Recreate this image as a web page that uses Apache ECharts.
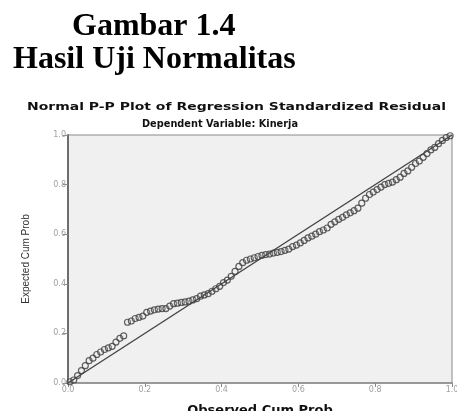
<!DOCTYPE html>
<html>
<head>
<meta charset="utf-8">
<script src="https://cdn.jsdelivr.net/npm/echarts@6/dist/echarts.min.js"></script>
<style>
  html, body { margin: 0; padding: 0; background: #fff; }
  #pp_plot { width: 457px; height: 411px; }
</style>
</head>
<body>
<div id="pp_plot"></div>
<script>
// observed vs expected cumulative probability
var observed = [0.005, 0.015, 0.025, 0.035, 0.045, 0.055, 0.065, 0.075, 0.085, 0.095,
  0.105, 0.115, 0.125, 0.135, 0.145, 0.155, 0.165, 0.175, 0.185, 0.195,
  0.205, 0.215, 0.225, 0.235, 0.245, 0.255, 0.265, 0.275, 0.285, 0.295,
  0.305, 0.315, 0.325, 0.335, 0.345, 0.355, 0.365, 0.375, 0.385, 0.395,
  0.405, 0.415, 0.425, 0.435, 0.445, 0.455, 0.465, 0.475, 0.485, 0.495,
  0.505, 0.515, 0.525, 0.535, 0.545, 0.555, 0.565, 0.575, 0.585, 0.595,
  0.605, 0.615, 0.625, 0.635, 0.645, 0.655, 0.665, 0.675, 0.685, 0.695,
  0.705, 0.715, 0.725, 0.735, 0.745, 0.755, 0.765, 0.775, 0.785, 0.795,
  0.805, 0.815, 0.825, 0.835, 0.845, 0.855, 0.865, 0.875, 0.885, 0.895,
  0.905, 0.915, 0.925, 0.935, 0.945, 0.955, 0.965, 0.975, 0.985, 0.995];
var expected = [0.005, 0.012, 0.03, 0.05, 0.07, 0.09, 0.1, 0.115, 0.125, 0.135,
  0.142, 0.148, 0.165, 0.18, 0.19, 0.245, 0.25, 0.26, 0.265, 0.27,
  0.285, 0.29, 0.295, 0.298, 0.3, 0.3, 0.31, 0.32, 0.322, 0.325,
  0.327, 0.33, 0.335, 0.34, 0.35, 0.355, 0.36, 0.37, 0.38, 0.39,
  0.405, 0.415, 0.43, 0.45, 0.47, 0.485, 0.495, 0.5, 0.505, 0.51,
  0.515, 0.518, 0.52, 0.524, 0.527, 0.53, 0.535, 0.54, 0.55, 0.556,
  0.565, 0.575, 0.585, 0.592, 0.6, 0.61, 0.617, 0.625, 0.64, 0.65,
  0.66, 0.668, 0.678, 0.686, 0.695, 0.705, 0.725, 0.745, 0.76, 0.77,
  0.78, 0.79, 0.8, 0.805, 0.81, 0.82, 0.83, 0.845, 0.855, 0.87,
  0.885, 0.895, 0.91, 0.925, 0.94, 0.95, 0.965, 0.978, 0.99, 0.997];
var refLine = [[0, 0], [1, 1]];

var titleLines = ['Gambar 1.4', 'Hasil Uji Normalitas'];
var plotTitle = 'Normal P-P Plot of Regression Standardized Residual';
var plotSubtitle = 'Dependent Variable: Kinerja';

// stretch a text horizontally so it spans the given width
var measureCtx = document.createElement('canvas').getContext('2d');
function stretch(text, font, width) {
  measureCtx.font = font;
  return width / measureCtx.measureText(text).width;
}

var serifFont = 'bold 32px "Liberation Serif", "Times New Roman", serif';
var smallFont = 'bold 11px "DejaVu Sans", sans-serif';

var chartDom = document.getElementById('pp_plot');
var myChart = echarts.init(chartDom);
var option;

var points = observed.map(function (x, i) { return [x, expected[i]]; });

option = {
  backgroundColor: '#ffffff',
  animation: false,
  grid: {
    left: 68,
    right: 5,
    top: 135,
    bottom: 28,
    outerBoundsMode: 'none',
    show: true,
    backgroundColor: '#f0f0f0',
    borderColor: '#8a8a8a',
    borderWidth: 1
  },
  graphic: [
    {
      type: 'text', left: 72, top: 11,
      style: { text: titleLines[0], font: serifFont, fill: '#000' }
    },
    {
      type: 'text', left: 13, top: 44,
      style: { text: titleLines[1], font: serifFont, fill: '#000' }
    },
    {
      type: 'text', x: 27, y: 102,
      scaleX: stretch(plotTitle, smallFont, 419),
      style: { text: plotTitle, font: smallFont, fill: '#111' }
    },
    {
      type: 'text', x: 142, y: 119,
      scaleX: stretch(plotSubtitle, smallFont, 156),
      style: { text: plotSubtitle, font: smallFont, fill: '#111' }
    }
  ],
  xAxis: {
    type: 'value',
    min: 0,
    max: 1,
    interval: 0.2,
    name: 'Observed Cum Prob',
    nameLocation: 'middle',
    nameGap: 21,
    nameTextStyle: {
      fontFamily: 'DejaVu Sans',
      fontWeight: 'bold',
      fontSize: 13,
      color: '#111'
    },
    splitLine: { show: false },
    axisLine: { lineStyle: { color: '#8a8a8a', width: 1.5 } },
    axisTick: { length: 4, lineStyle: { color: '#888' } },
    axisLabel: {
      margin: 3,
      fontSize: 8,
      fontFamily: 'DejaVu Sans',
      color: '#a0a0a0',
      formatter: function (v) { return v.toFixed(1); }
    }
  },
  yAxis: {
    type: 'value',
    min: 0,
    max: 1,
    interval: 0.2,
    name: 'Expected Cum Prob',
    nameLocation: 'middle',
    nameGap: 37,
    nameTextStyle: {
      fontFamily: 'Liberation Sans',
      fontSize: 10,
      color: '#333'
    },
    splitLine: { show: false },
    axisLine: { lineStyle: { color: '#6e6e6e', width: 2 } },
    axisTick: { length: 5, lineStyle: { color: '#888' } },
    axisLabel: {
      margin: 2,
      fontSize: 8,
      fontFamily: 'DejaVu Sans',
      color: '#a0a0a0',
      formatter: function (v) { return v.toFixed(1); }
    }
  },
  series: [
    {
      type: 'line',
      data: refLine,
      symbol: 'none',
      lineStyle: { color: '#444', width: 1.4 },
      silent: true
    },
    {
      type: 'scatter',
      data: points,
      symbol: 'circle',
      symbolSize: 6,
      itemStyle: {
        color: 'rgba(240,240,240,0.2)',
        borderColor: '#3c3c3c',
        borderWidth: 1.2
      }
    }
  ]
};

myChart.setOption(option);
</script>
</body>
</html>
